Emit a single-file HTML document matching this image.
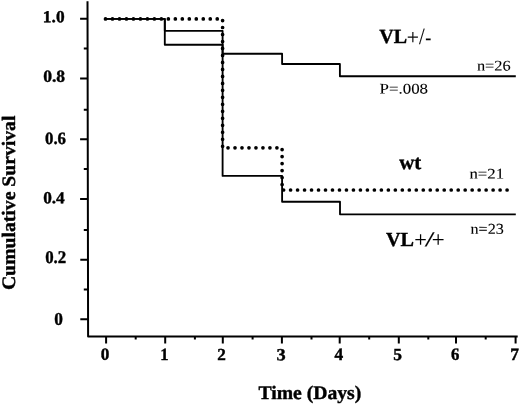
<!DOCTYPE html>
<html><head><meta charset="utf-8">
<style>
html,body{margin:0;padding:0;background:#fff;width:520px;height:405px;overflow:hidden;}
svg{display:block;will-change:transform;}
.b{font-family:"Liberation Serif",serif;font-weight:bold;fill:#000;}
.r{font-family:"Liberation Serif",serif;font-weight:normal;fill:#000;}
.b{stroke:#000;stroke-width:0.4px;}
.r{stroke:#000;stroke-width:0.1px;}
</style></head><body>
<svg width="520" height="405" viewBox="0 0 520 405">
<g stroke="#000" stroke-width="2.0" fill="none" stroke-linecap="butt">
<path d="M87.5,1.2 L88.1,336.5 H517.7" stroke-linejoin="round"/>
<path d="M80.1,18.85 H87.7 M80.1,78.4 H87.7 M80.1,139.3 H87.8 M80.1,198.9 H87.8 M80.3,259.7 H88 M80.3,319.3 H88"/>
<path d="M83.8,48.6 H87.7 M83.8,109.7 H87.7 M83.8,169 H87.8 M83.8,229.9 H87.9 M83.8,289.5 H88"/>
<path d="M106.1,336.5 V343.5 M165.2,336.5 V343.5 M222.8,336.5 V343.5 M281.9,336.5 V343.5 M339.7,336.5 V343.5 M398.8,336.5 V343.5 M456,336.5 V343.5 M515.6,336.5 V343.5"/>
<path d="M135.7,336.5 V339.6 M194.9,336.5 V339.6 M252.6,336.5 V339.6 M311.5,336.5 V339.6 M369.2,336.5 V339.6 M428.3,336.5 V339.6 M485.7,336.5 V339.6"/>
</g>
<g stroke="#000" stroke-width="1.85" fill="none" stroke-linejoin="round">
<path d="M104,18.9 H164.8 V30.8 H222.6 V53.7 H282.1 V64.0 H339.9 V76.2 H515.8"/>
<path d="M104,18.9 H164.8 V44.75 H222.6 V175.9 H282.1 V201.7 H340 V214.3 H515.8"/>
</g>
<path d="M105.5,18.9 H222.6 V147.8 H282.1 V190.0 H513.9" stroke="#000" stroke-width="3.7" fill="none" stroke-linecap="round" stroke-dasharray="0 6.984"/>
<text class="b" font-size="16.89" transform="translate(42.87,22.30) scale(1.028,1) rotate(0.05)">1.0</text>
<text class="b" font-size="16.88" transform="translate(43.13,81.69) scale(1.040,1) rotate(0.05)">0.8</text>
<text class="b" font-size="17.27" transform="translate(45.00,144.00) scale(0.973,1) rotate(0.05)">0.6</text>
<text class="b" font-size="16.87" transform="translate(43.14,203.27) scale(1.024,1) rotate(0.05)">0.4</text>
<text class="b" font-size="17.96" transform="translate(45.16,262.99) scale(0.940,1) rotate(0.05)">0.2</text>
<text class="b" font-size="17.77" transform="translate(54.21,324.69) scale(0.973,1) rotate(0.05)">0</text>
<text class="b" font-size="17.49" transform="translate(100.81,359.73) scale(0.983,1) rotate(0.05)">0</text>
<text class="b" font-size="17.02" transform="translate(160.13,360.00) scale(0.970,1) rotate(0.05)">1</text>
<text class="b" font-size="16.88" transform="translate(217.21,360.04) scale(1.017,1) rotate(0.05)">2</text>
<text class="b" font-size="17.02" transform="translate(276.44,360.15) scale(1.076,1) rotate(0.05)">3</text>
<text class="b" font-size="17.67" transform="translate(334.46,360.07) scale(0.983,1) rotate(0.05)">4</text>
<text class="b" font-size="16.87" transform="translate(393.25,360.04) scale(1.035,1) rotate(0.05)">5</text>
<text class="b" font-size="17.16" transform="translate(451.09,359.80) scale(0.977,1) rotate(0.05)">6</text>
<text class="b" font-size="17.16" transform="translate(510.16,360.03) scale(1.015,1) rotate(0.05)">7</text>
<text class="b" font-size="19.07" transform="translate(258.43,399.03) scale(1.031,1) rotate(0.05)">Time (Days)</text>
<text class="b" font-size="19.02" transform="translate(14.93,290.12) rotate(-90) scale(1.036,1) rotate(0.05)">Cumulative Survival</text>
<text class="b" font-size="20.11" transform="translate(379.16,43.10) scale(0.997,1) rotate(0.05)">VL</text>
<text class="r" font-size="22.25" transform="translate(406.78,44.53) scale(0.972,1) rotate(0.05)">+</text>
<text class="r" font-size="23.00" transform="translate(418.97,44.10) scale(0.876,1) rotate(0.05)">/</text>
<text class="r" font-size="23.11" transform="translate(425.30,44.68) scale(0.780,1) rotate(0.05)">-</text>
<text class="r" font-size="14.77" transform="translate(476.91,70.59) scale(1.109,1) rotate(0.05)">n=26</text>
<text class="r" font-size="14.65" transform="translate(379.59,93.59) scale(1.154,1) rotate(0.05)">P=.008</text>
<text class="b" font-size="20.09" transform="translate(399.27,169.06) scale(1.038,1) rotate(0.05)">wt</text>
<text class="r" font-size="14.65" transform="translate(469.44,178.44) scale(1.146,1) rotate(0.05)">n=21</text>
<text class="b" font-size="19.96" transform="translate(386.01,245.99) scale(1.011,1) rotate(0.05)">VL</text>
<text class="r" font-size="22.57" transform="translate(414.13,246.98) scale(0.990,1) rotate(0.05)">+</text>
<text class="r" font-size="21.16" transform="translate(424.66,246.34) scale(1.669,1) rotate(0.05)">/</text>
<text class="r" font-size="22.51" transform="translate(431.76,246.96) scale(1.014,1) rotate(0.05)">+</text>
<text class="r" font-size="14.95" transform="translate(470.51,233.75) scale(1.078,1) rotate(0.05)">n=23</text>
</svg>
</body></html>
